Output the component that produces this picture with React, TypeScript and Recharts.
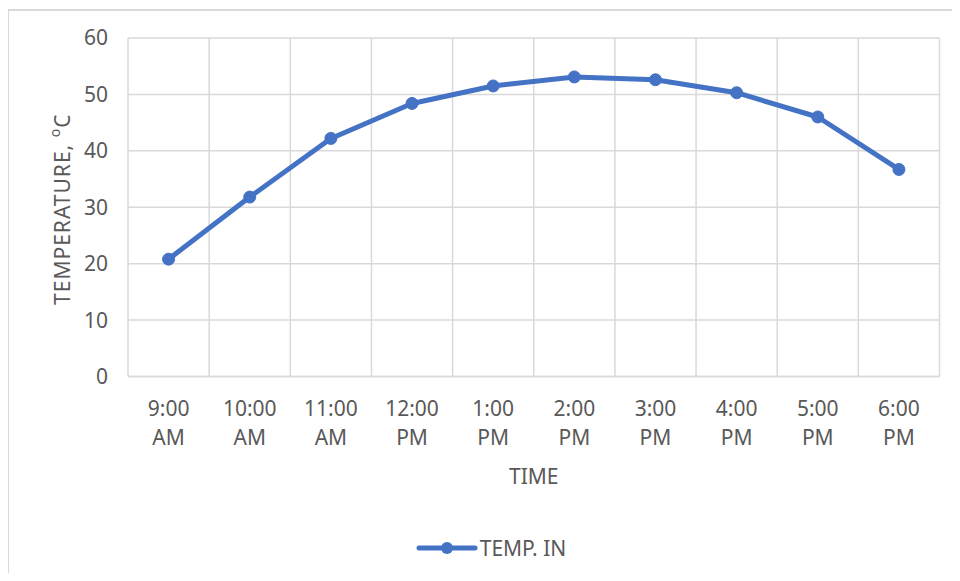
import React from 'react';
import { LineChart, Line, XAxis, YAxis, CartesianGrid, Legend } from 'recharts';

// hourly readings
const times = ['9:00 AM', '10:00 AM', '11:00 AM', '12:00 PM', '1:00 PM', '2:00 PM', '3:00 PM', '4:00 PM', '5:00 PM', '6:00 PM'];
const tempIn = [20.8, 31.8, 42.2, 48.4, 51.5, 53.1, 52.6, 50.3, 46.0, 36.7];
const yTicks = [0, 10, 20, 30, 40, 50, 60];

const data = times.map((t, i) => ({ time: t, temp: tempIn[i] }));

const BLUE = '#4472C4';
const GRID = '#d9d9d9';
const TEXT = '#595959';
const FONT = '"Noto Sans", sans-serif';

const W = 960;
const H = 581;

const TimeTick = (props: any) => {
  const { x, y, payload } = props;
  const [clock, ampm] = String(payload.value).split(' ');
  return (
    <g transform={`translate(${x},${y})`}>
      <text textAnchor="middle" fill={TEXT} fontSize={21} fontFamily={FONT}>
        <tspan x={0} dy={39}>{clock}</tspan>
        <tspan x={0} dy={29}>{ampm}</tspan>
      </text>
    </g>
  );
};

const renderYTitle = (props: any) => {
  const vb = props.viewBox || {};
  const cx = 62;
  const cy = vb.y + vb.height / 2 + 2;
  return (
    <text
      x={cx}
      y={cy}
      transform={`rotate(-90, ${cx}, ${cy})`}
      textAnchor="middle"
      dominantBaseline="central"
      fill={TEXT}
      fontSize={21}
      fontFamily={FONT}
      letterSpacing={1}
    >
      TEMPERATURE,{' '}
      <tspan fontSize={14} dy={-8}>o</tspan>
      <tspan dy={8}>C</tspan>
    </text>
  );
};

const renderXTitle = (props: any) => {
  const vb = props.viewBox || {};
  return (
    <text
      x={vb.x + vb.width / 2}
      y={484}
      textAnchor="middle"
      fill={TEXT}
      fontSize={21}
      fontFamily={FONT}
    >
      TIME
    </text>
  );
};

const LegendContent = () => (
  <div style={{ display: 'flex', justifyContent: 'center', alignItems: 'center', paddingLeft: 22 }}>
    <svg width={62} height={16} style={{ marginRight: 2 }}>
      <line x1={3} y1={8} x2={59} y2={8} stroke={BLUE} strokeWidth={5} strokeLinecap="round" />
      <circle cx={31} cy={8} r={6} fill={BLUE} />
    </svg>
    <span style={{ color: TEXT, fontSize: 21, fontFamily: FONT }}>TEMP. IN</span>
  </div>
);

export default function App() {
  return (
    <div style={{ position: 'relative', margin: -8, width: W, height: H, overflow: 'hidden', background: '#fff' }}>
      <div
        style={{
          position: 'absolute',
          left: 7,
          top: 9,
          width: 1000,
          height: 1000,
          border: `2px solid ${GRID}`,
          boxSizing: 'border-box',
        }}
      />
      <div style={{ position: 'absolute', left: 0, top: 0 }}>
        <LineChart width={W} height={H} data={data} margin={{ top: 38, right: 20.5, bottom: 174.5, left: 68 }}>
          <CartesianGrid
            stroke={GRID}
            strokeWidth={1.5}
            verticalCoordinatesGenerator={({ offset }: any) =>
              times.map((_, i) => offset.left + (i * offset.width) / times.length).concat(offset.left + offset.width)
            }
          />
          <XAxis
            dataKey="time"
            height={30}
            padding={{ left: 40.575, right: 40.575 }}
            interval={0}
            tickLine={false}
            tickSize={0}
            tickMargin={0}
            axisLine={{ stroke: GRID, strokeWidth: 1.5 }}
            tick={<TimeTick />}
            label={renderXTitle}
          />
          <YAxis
            width={60}
            domain={[0, 60]}
            ticks={yTicks}
            interval={0}
            axisLine={false}
            tickLine={false}
            tickSize={0}
            tickMargin={20}
            tick={{ fill: TEXT, fontSize: 21, fontFamily: FONT }}
            label={renderYTitle}
          />
          <Legend
            layout="horizontal"
            verticalAlign="middle"
            content={<LegendContent />}
            wrapperStyle={{ top: 534, left: 0, width: W }}
          />
          <Line
            type="linear"
            dataKey="temp"
            name="TEMP. IN"
            stroke={BLUE}
            strokeWidth={5}
            strokeLinejoin="round"
            dot={{ r: 6, fill: BLUE, stroke: BLUE, strokeWidth: 1 }}
            activeDot={false}
            isAnimationActive={false}
          />
        </LineChart>
      </div>
    </div>
  );
}
